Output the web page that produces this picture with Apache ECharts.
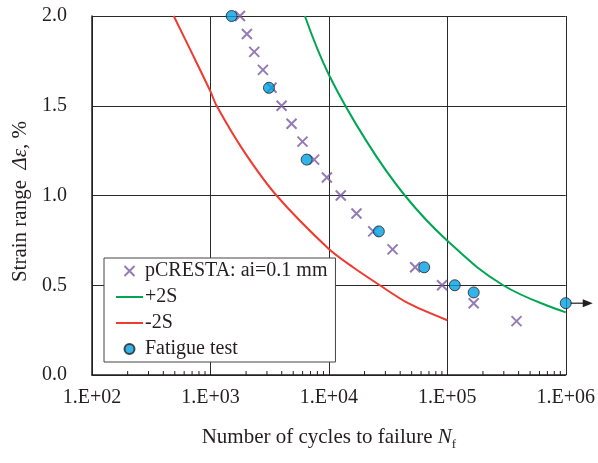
<!DOCTYPE html>
<html>
<head>
<meta charset="utf-8">
<script src="https://cdn.jsdelivr.net/npm/echarts@6/dist/echarts.min.js"></script>
<style>
html,body{margin:0;padding:0;background:#fff;}
#chart{width:598px;height:463px;}
</style>
</head>
<body>
<div id="chart"></div>
<script>
// ---- Data ----
const xTickLabels = ['1.E+02', '1.E+03', '1.E+04', '1.E+05', '1.E+06'];
const yTickLabels = ['0.0', '0.5', '1.0', '1.5', '2.0'];

const seriesNames = ['pCRESTA: ai=0.1 mm', '+2S', '-2S', 'Fatigue test'];

// pCRESTA predictions (cycles, strain range %)
const pcrestaN = [1775, 2032, 2344, 2773, 3280, 3990, 4840, 5990, 7510, 9620, 12600, 17100, 23700, 34500, 53500, 90300, 167000, 384000];
const pcrestaS = [2.0, 1.9, 1.8, 1.7, 1.6, 1.5, 1.4, 1.3, 1.2, 1.1, 1.0, 0.9, 0.8, 0.7, 0.6, 0.5, 0.4, 0.3];

// +2S curve
const plus2SN = [6270, 10000, 20900, 43800, 100000, 296000, 1000000];
const plus2SS = [2.0, 1.673, 1.30, 1.0, 0.748, 0.5, 0.349];

// -2S curve
const minus2SN = [490, 690, 1000, 1127, 1900, 3614, 9890, 16000, 26900, 46700, 100000];
const minus2SS = [2.0, 1.8, 1.58, 1.5, 1.25, 1.0, 0.705, 0.6, 0.5, 0.4, 0.305];

// Fatigue test results
const fatigueN = [1510, 3120, 6490, 26400, 63800, 115600, 167000, 1000000];
const fatigueS = [2.0, 1.6, 1.2, 0.8, 0.6, 0.5, 0.46, 0.4];
const runoutIndex = 7; // last test point marked with an arrow (run-out)

// ---- Chart ----
const pair = (xs, ys) => xs.map((x, i) => [x, ys[i]]);
const FONT = "'Liberation Serif', 'Times New Roman', serif";
const TXT = '#231f20';

const chart = echarts.init(document.getElementById('chart'), null, {renderer: 'canvas'});

const option = {
  animation: false,
  backgroundColor: '#ffffff',
  textStyle: {fontFamily: FONT, color: TXT},
  grid: {left: 92, right: 32, top: 16, bottom: 88, containLabel: false},
  legend: {
    orient: 'vertical',
    left: 104,
    top: 258,
    data: [
      {name: seriesNames[0]},
      {name: seriesNames[1], itemStyle: {opacity: 0}},
      {name: seriesNames[2], itemStyle: {opacity: 0}},
      {name: seriesNames[3]}
    ],
    backgroundColor: '#ffffff',
    borderColor: '#444',
    borderWidth: 1,
    borderRadius: 0,
    padding: [3, 8, 3, 11],
    itemWidth: 27,
    itemHeight: 10,
    itemGap: 6,
    textStyle: {fontFamily: FONT, fontSize: 20, color: TXT, lineHeight: 20, padding: [0, 0, 0, -3]}
  },
  xAxis: {
    type: 'log',
    logBase: 10,
    min: 100,
    max: 1000000,
    name: '{a|Number of cycles to failure }{i|N}{s|f}',
    nameLocation: 'middle',
    nameGap: 48,
    nameTextStyle: {
      rich: {
        a: {fontFamily: FONT, fontSize: 21, color: TXT},
        i: {fontFamily: FONT, fontSize: 21, color: TXT, fontStyle: 'italic'},
        s: {fontFamily: FONT, fontSize: 13, color: TXT, padding: [15, 0, 0, 0]}
      }
    },
    axisLine: {show: true, onZero: false, lineStyle: {color: TXT, width: 1.5}},
    axisTick: {show: false},
    minorTick: {show: false},
    axisLabel: {
      fontFamily: FONT, fontSize: 20, color: TXT, margin: 13,
      formatter: v => xTickLabels[Math.round(Math.log10(v)) - 2]
    },
    splitLine: {show: true, lineStyle: {color: '#2a2a2a', width: 1}}
  },
  yAxis: {
    type: 'value',
    min: 0,
    max: 2,
    interval: 0.5,
    name: '{a|Strain range  }{i|Δε}{a|, %}',
    nameLocation: 'middle',
    nameGap: 61,
    nameRotate: 90,
    nameTextStyle: {
      padding: [0, 12, 0, 0],
      rich: {
        a: {fontFamily: FONT, fontSize: 21, color: TXT},
        i: {fontFamily: FONT, fontSize: 21, color: TXT, fontStyle: 'italic'}
      }
    },
    axisLine: {show: true, lineStyle: {color: TXT, width: 1.5}},
    axisTick: {show: false},
    axisLabel: {
      fontFamily: FONT, fontSize: 20, color: TXT, margin: 25,
      formatter: v => yTickLabels[Math.round(v / 0.5)]
    },
    splitLine: {show: true, lineStyle: {color: '#2a2a2a', width: 1}}
  },
  series: [
    {
      name: seriesNames[0],
      type: 'scatter',
      data: pair(pcrestaN, pcrestaS),
      symbol: 'path://M0,0L10,10M10,0L0,10',
      symbolSize: 10,
      itemStyle: {color: 'rgba(0,0,0,0)', borderColor: '#7a5aa4', borderWidth: 2},
      z: 3
    },
    {
      name: seriesNames[1],
      type: 'line',
      data: pair(plus2SN, plus2SS),
      smooth: 0.4,
      symbol: 'none',
      showSymbol: false,
      itemStyle: {color: '#00a651'},
      lineStyle: {color: '#00a651', width: 2},
      z: 2
    },
    {
      name: seriesNames[2],
      type: 'line',
      data: pair(minus2SN, minus2SS),
      smooth: 0.3,
      symbol: 'none',
      showSymbol: false,
      itemStyle: {color: '#ee3a2f'},
      lineStyle: {color: '#ee3a2f', width: 2},
      z: 2
    },
    {
      name: seriesNames[3],
      type: 'scatter',
      data: pair(fatigueN, fatigueS),
      symbol: 'circle',
      symbolSize: 11,
      itemStyle: {color: '#00a0e2', borderColor: '#231f20', borderWidth: 1},
      z: 4
    }
  ]
};

chart.setOption(option);

// minor ticks (2..9 within each decade) and run-out arrow, placed via the axis scales
const decades = [100, 1000, 10000, 100000];
const multiples = [2, 3, 4, 5, 6, 7, 8, 9];
const g = [];
decades.forEach(d => multiples.forEach(m => {
  const p = chart.convertToPixel({gridIndex: 0}, [d * m, 0]);
  g.push({type: 'line', silent: true, z: 10,
    shape: {x1: p[0], y1: p[1], x2: p[0], y2: p[1] - 4},
    style: {stroke: TXT, lineWidth: 1}});
}));
const rp = chart.convertToPixel({gridIndex: 0}, [fatigueN[runoutIndex], fatigueS[runoutIndex]]);
g.push({type: 'line', silent: true, z: 10,
  shape: {x1: rp[0] + 5, y1: rp[1], x2: rp[0] + 19, y2: rp[1]},
  style: {stroke: TXT, lineWidth: 1.2}});
g.push({type: 'polygon', silent: true, z: 10,
  shape: {points: [[rp[0] + 17, rp[1] - 4], [rp[0] + 27, rp[1]], [rp[0] + 17, rp[1] + 4]]},
  style: {fill: TXT}});
chart.setOption({graphic: g});
</script>
</body>
</html>
